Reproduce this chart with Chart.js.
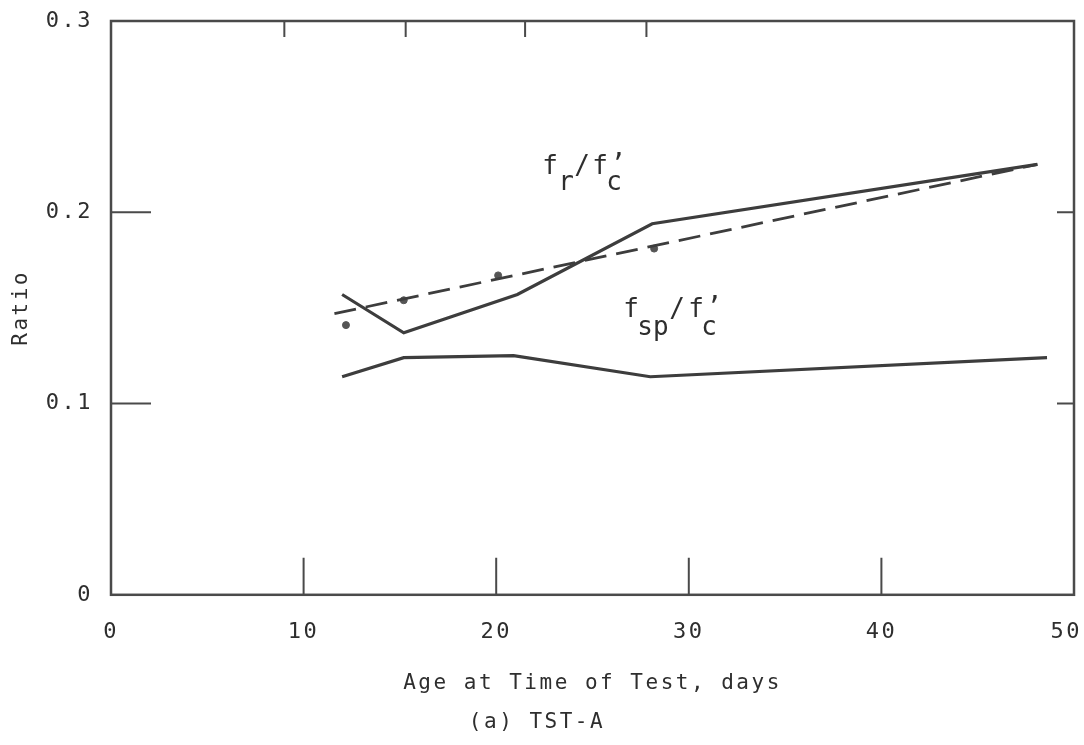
<!DOCTYPE html>
<html><head><meta charset="utf-8">
<script src="https://cdn.jsdelivr.net/npm/chart.js@4/dist/chart.umd.min.js"></script>
<style>html,body{margin:0;padding:0;background:#fff}</style>
</head><body>
<canvas id="c" width="1084" height="745"></canvas>
<script>
// ---- data ----
const xTickValues = [0, 10, 20, 30, 40, 50];
const yTickValues = [0, 0.1, 0.2, 0.3];
const frAge = [12.0, 15.2, 21.1, 28.1, 48.1];
const frRatio = [0.157, 0.137, 0.157, 0.194, 0.225];
const fspAge = [12.0, 15.2, 20.9, 28.0, 48.6];
const fspRatio = [0.114, 0.124, 0.125, 0.114, 0.124];
const fitAge = [11.6, 48.1];
const fitRatio = [0.147, 0.225];
const obsAge = [12.2, 15.2, 20.1, 28.2];
const obsRatio = [0.141, 0.154, 0.167, 0.181];
const innerYTicks = [0.1, 0.2];
const innerXTicks = [10, 20, 30, 40];
const topTicks = [9.0, 15.3, 21.5, 27.8];

const pts = (xs, ys) => xs.map((x, i) => ({x: x, y: ys[i]}));
const INK = '#3d3d3d';
const FONT = "'DejaVu Sans Mono', monospace";
const SPACING = '2.5px';

const framePlugin = {
  id: 'frame',
  beforeLayout(chart) { chart.ctx.letterSpacing = SPACING; },
  beforeDraw(chart) { chart.ctx.letterSpacing = SPACING; },
  afterDatasetsDraw(chart) {
    const {ctx, chartArea: a, scales: {x, y}} = chart;
    ctx.save();
    ctx.strokeStyle = '#4a4a4a';
    ctx.lineWidth = 2.5;
    ctx.strokeRect(a.left, a.top, a.right - a.left, a.bottom - a.top);
    ctx.lineWidth = 2;
    ctx.beginPath();
    innerYTicks.forEach(v => {
      const py = y.getPixelForValue(v);
      ctx.moveTo(a.left, py); ctx.lineTo(a.left + 40, py);
      ctx.moveTo(a.right, py); ctx.lineTo(a.right - 17, py);
    });
    innerXTicks.forEach(v => {
      const px = x.getPixelForValue(v);
      ctx.moveTo(px, a.bottom); ctx.lineTo(px, a.bottom - 37);
    });
    topTicks.forEach(v => {
      const px = x.getPixelForValue(v);
      ctx.moveTo(px, a.top); ctx.lineTo(px, a.top + 16);
    });
    ctx.stroke();

    // curve labels with typewriter-style subscripts
    ctx.letterSpacing = '0px';
    ctx.fillStyle = '#2e2e2e';
    ctx.font = "26px " + FONT;
    ctx.textBaseline = 'alphabetic';
    ctx.textAlign = 'left';
    const label = (ax, ay, parts) => {
      const bx = x.getPixelForValue(ax), by = y.getPixelForValue(ay);
      parts.forEach(p => ctx.fillText(p[0], bx + p[1], by + p[2]));
    };
    label(22.5, 0.22, [['f', -2, 0], ['r', 14, 16], ['/', 30, 0], ['f', 48, 0], ['\u2019', 66, -2], ['c', 62, 16]]);
    label(26.7, 0.145, [['f', -2, 0], ['sp', 12, 18], ['/', 44, 0], ['f', 63, 0], ['\u2019', 81, -2], ['c', 76, 18]]);
    ctx.restore();
  }
};

new Chart(document.getElementById('c'), {
  type: 'line',
  data: {
    datasets: [
      {data: pts(frAge, frRatio), borderColor: INK, borderWidth: 3.2, pointRadius: 0, tension: 0},
      {data: pts(fspAge, fspRatio), borderColor: INK, borderWidth: 3.2, pointRadius: 0, tension: 0},
      {data: pts(fitAge, fitRatio), borderColor: INK, borderWidth: 2.8, borderDash: [22, 10], pointRadius: 0, tension: 0},
      {data: pts(obsAge, obsRatio), showLine: false, pointRadius: 3.5, pointBackgroundColor: '#555', pointBorderColor: '#555', borderWidth: 1}
    ]
  },
  options: {
    responsive: false,
    devicePixelRatio: 1,
    animation: false,
    layout: {padding: {top: 21, right: 10, left: 0, bottom: 0}},
    plugins: {
      legend: {display: false},
      tooltip: {enabled: false},
      title: {
        display: true, position: 'bottom', text: '(a) TST-A', color: '#2e2e2e',
        font: {family: FONT, size: 21, weight: 'normal'}, padding: {top: 6, bottom: 10}
      }
    },
    scales: {
      x: {
        type: 'linear', min: 0, max: 50,
        afterBuildTicks: s => { s.ticks = xTickValues.map(v => ({value: v})); },
        ticks: {color: '#2e2e2e', font: {family: FONT, size: 22}, padding: 24, maxRotation: 0,
                callback: v => v === 50 ? '50 ' : String(v)},
        grid: {display: false, drawTicks: false},
        border: {display: false},
        title: {display: true, text: 'Age at Time of Test, days', color: '#2e2e2e',
                font: {family: FONT, size: 21}, padding: {top: 4, bottom: 8}},
        afterFit: s => { s.height = 109; s.paddingLeft = 0; s.paddingRight = 0; }
      },
      y: {
        min: 0, max: 0.3,
        afterBuildTicks: s => { s.ticks = yTickValues.map(v => ({value: v})); },
        ticks: {color: '#2e2e2e', font: {family: FONT, size: 22}, padding: 18,
                callback: v => v === 0 ? '0' : v.toFixed(1)},
        grid: {display: false, drawTicks: false},
        border: {display: false},
        title: {display: true, text: 'Ratio', color: '#2e2e2e',
                font: {family: FONT, size: 21}, padding: {top: 9, bottom: 0}},
        afterFit: s => { s.width = 111; s.paddingTop = 0; s.paddingBottom = 0; }
      }
    }
  },
  plugins: [framePlugin]
});
</script>
</body></html>
